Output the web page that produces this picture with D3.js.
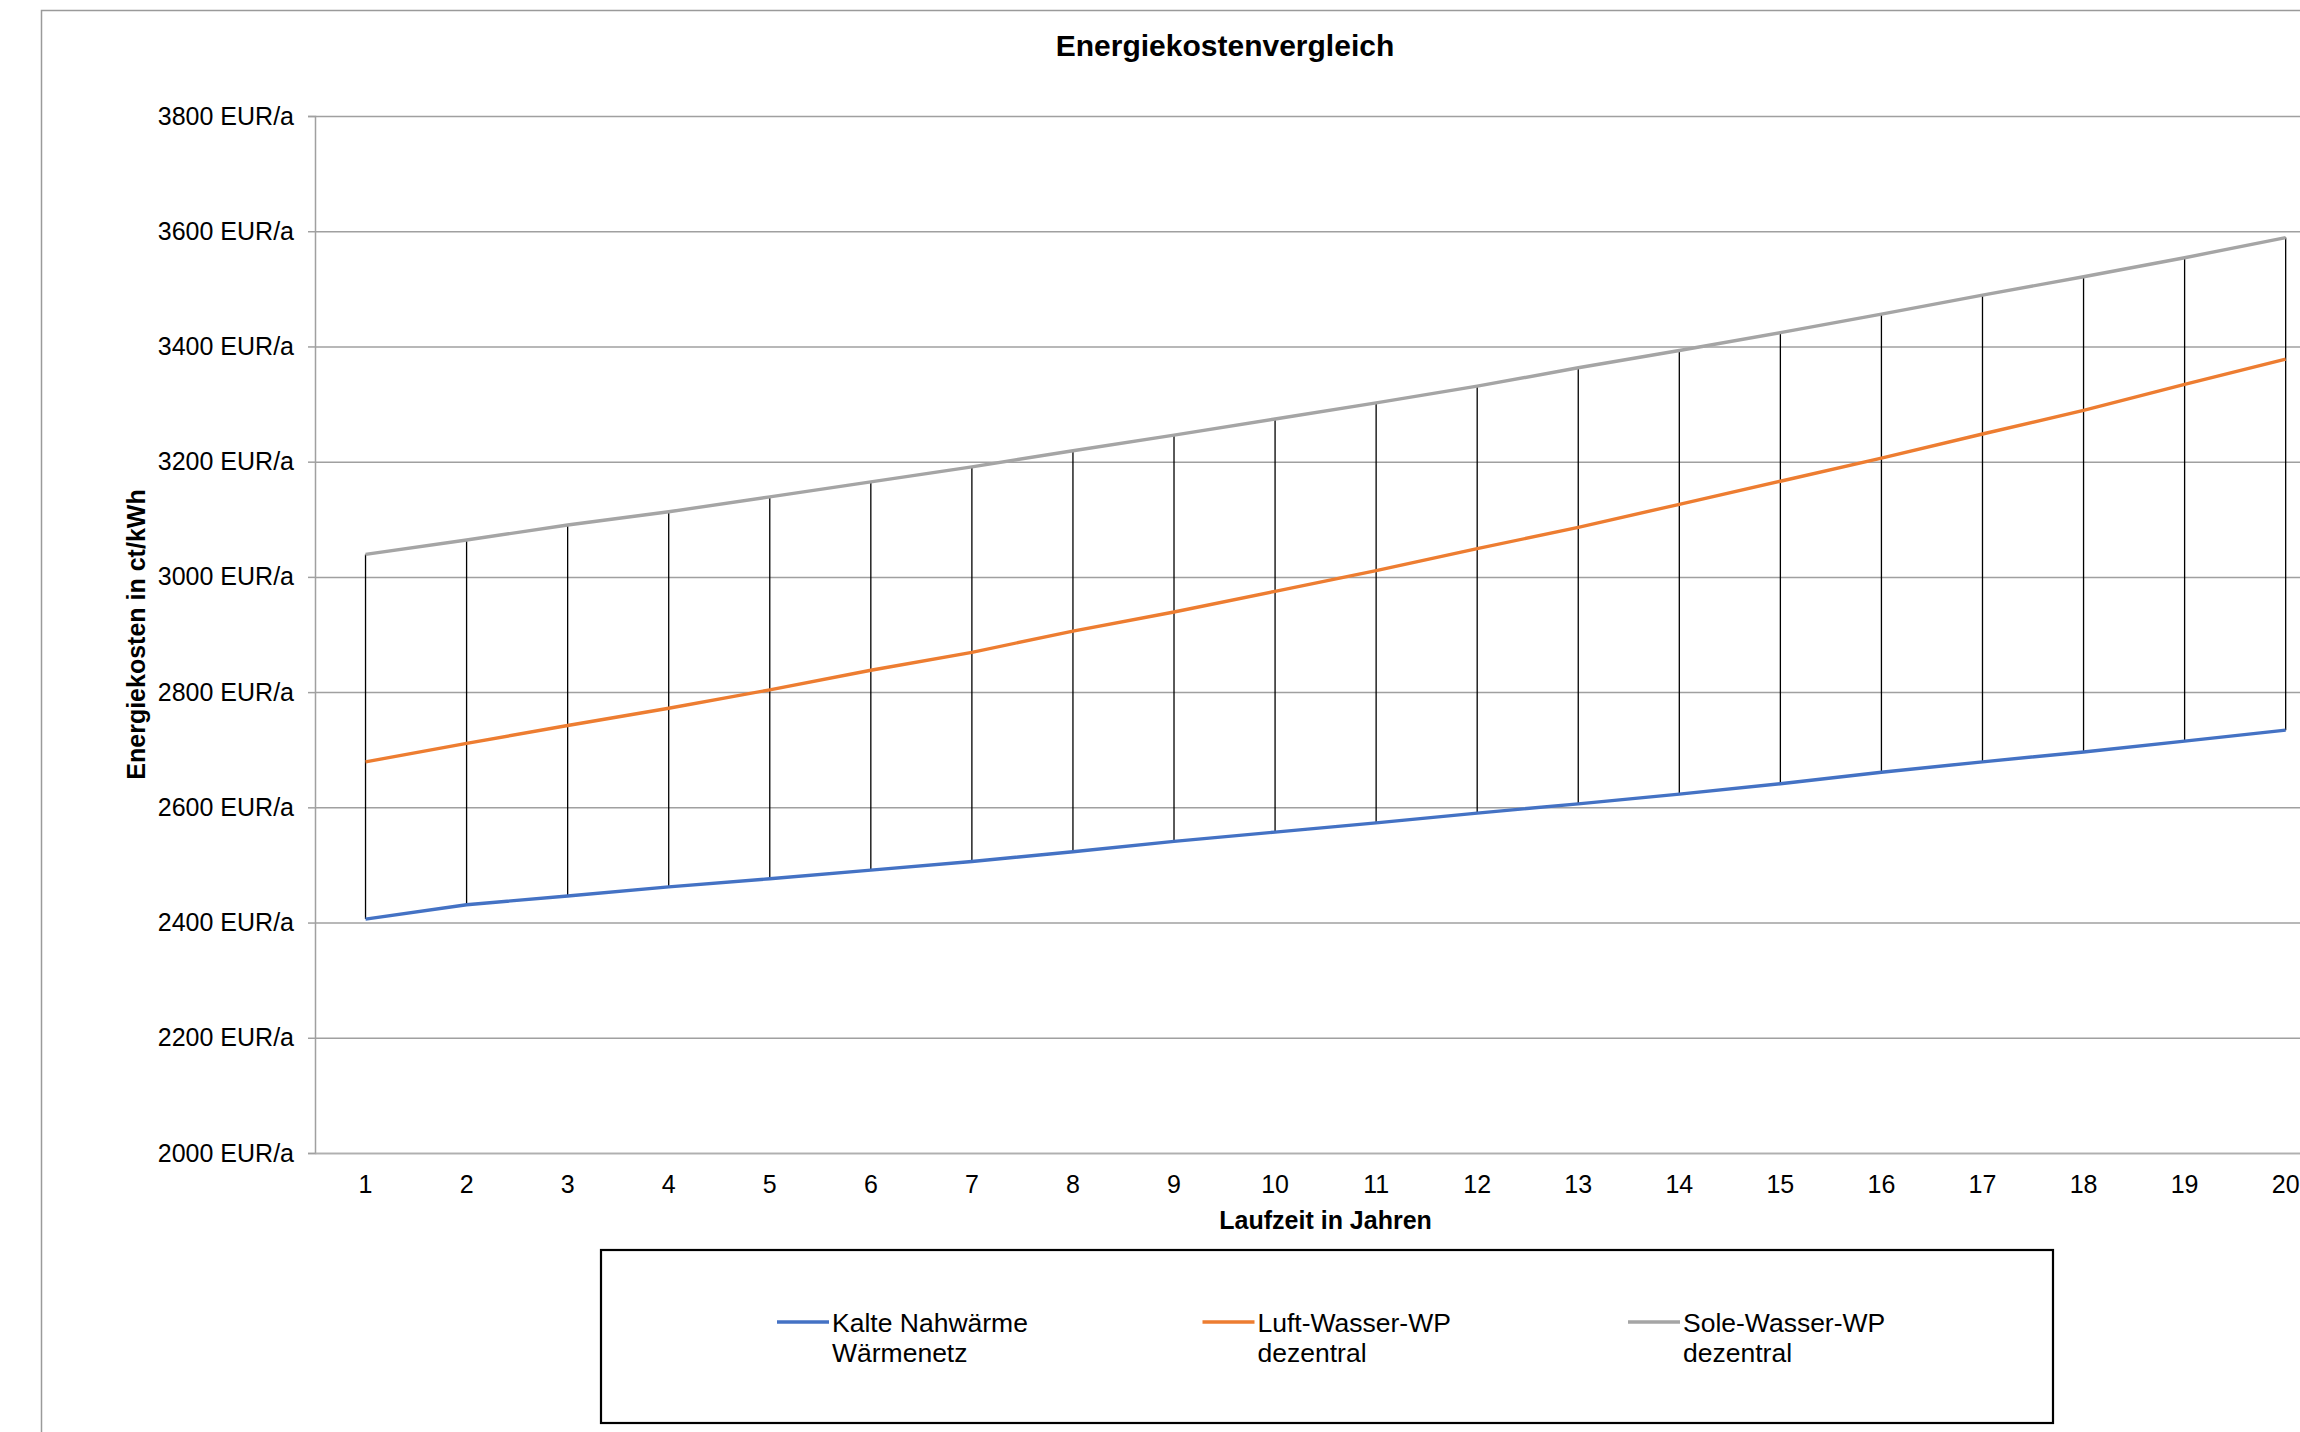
<!DOCTYPE html>
<html>
<head>
<meta charset="utf-8">
<script src="https://cdn.jsdelivr.net/npm/d3@7"></script>
<style>
  html, body { margin: 0; padding: 0; background: #fff; overflow: hidden; }
  svg { display: block; font-family: "Liberation Sans", Arial, sans-serif; }
</style>
</head>
<body>
<svg id="chart" width="2300" height="1432"></svg>
<script>
// ---- data ----
const years = [1,2,3,4,5,6,7,8,9,10,11,12,13,14,15,16,17,18,19,20];
const kalteNahwaerme = [2406,2431,2446,2462,2476,2491,2506,2523,2541,2557,2573,2590,2606,2623,2641,2661,2679,2696,2715,2734];
const luftWasser     = [2679,2711,2742,2772,2804,2838,2869,2906,2939,2975,3011,3049,3086,3126,3166,3206,3248,3289,3334,3378];
const soleWasser     = [3039,3064,3090,3113,3139,3165,3191,3219,3246,3274,3302,3331,3363,3393,3424,3456,3489,3521,3554,3589];
const yTickValues = [2000,2200,2400,2600,2800,3000,3200,3400,3600,3800];
const seriesNames = [["Kalte Nahwärme","Wärmenetz"],["Luft-Wasser-WP","dezentral"],["Sole-Wasser-WP","dezentral"]];
const seriesColors = ["#4472C4","#ED7D31","#A5A5A5"];
const chartTitle = "Energiekostenvergleich";
const xTitle = "Laufzeit in Jahren";
const yTitle = "Energiekosten in ct/kWh";
const tickSuffix = " EUR/a";

// ---- layout ----
const svg = d3.select("#chart");
const plotLeft = 315, plotTop = 116, plotBottom = 1153, band = 101.06;
const plotRight = plotLeft + band * years.length;

const x = d3.scaleBand().domain(years).range([plotLeft, plotRight]).padding(0);
const y = d3.scaleLinear().domain([2000, 3800]).range([plotBottom, plotTop]);
const cx = d => x(d) + x.bandwidth() / 2;

// outer chart border
svg.append("rect").attr("x", 41.5).attr("y", 10.5).attr("width", 2400).attr("height", 1600)
  .attr("fill", "#fff").attr("stroke", "#9a9a9a").attr("stroke-width", 1.5);

// title
svg.append("text").attr("x", 1225).attr("y", 56).attr("text-anchor", "middle")
  .attr("font-size", 30).attr("font-weight", "bold").attr("fill", "#000").text(chartTitle);

// gridlines
const grid = svg.append("g").attr("transform", `translate(${plotLeft},0)`)
  .call(d3.axisLeft(y).tickValues(yTickValues).tickSize(-(plotRight - plotLeft)).tickFormat(""));
grid.select(".domain").remove();
grid.selectAll("line").attr("stroke", "#a0a0a0").attr("stroke-width", 1.5);

// y axis
const yAxis = svg.append("g").attr("transform", `translate(${plotLeft},0)`)
  .call(d3.axisLeft(y).tickValues(yTickValues).tickSize(7).tickPadding(14).tickFormat(d => d + tickSuffix));
yAxis.select(".domain").attr("stroke", "#a0a0a0").attr("stroke-width", 1.5);
yAxis.selectAll("line").attr("stroke", "#a0a0a0").attr("stroke-width", 1.5);
yAxis.selectAll("text").attr("font-size", 25).attr("fill", "#000")
  .attr("font-family", "'Liberation Sans', Arial, sans-serif");

// x axis
const xAxis = svg.append("g").attr("transform", `translate(0,${plotBottom})`)
  .call(d3.axisBottom(x).tickSize(0).tickPadding(22));
xAxis.select(".domain").attr("stroke", "#b0b0b0").attr("stroke-width", 1.5);
xAxis.selectAll("text").attr("font-size", 25).attr("fill", "#000")
  .attr("font-family", "'Liberation Sans', Arial, sans-serif");

// axis titles
svg.append("text").attr("x", (plotLeft + plotRight) / 2).attr("y", 1229).attr("text-anchor", "middle")
  .attr("font-size", 25).attr("font-weight", "bold").attr("fill", "#000").text(xTitle);
svg.append("text").attr("transform", `translate(145,${(plotTop + plotBottom) / 2}) rotate(-90)`)
  .attr("text-anchor", "middle").attr("font-size", 25).attr("font-weight", "bold").attr("fill", "#000").text(yTitle);

// high-low lines
const allSeries = [kalteNahwaerme, luftWasser, soleWasser];
svg.append("g").selectAll("line").data(years).join("line")
  .attr("x1", d => cx(d)).attr("x2", d => cx(d))
  .attr("y1", (d, i) => y(d3.max(allSeries, s => s[i])))
  .attr("y2", (d, i) => y(d3.min(allSeries, s => s[i])))
  .attr("stroke", "#000").attr("stroke-width", 1.3);

// series lines
const line = d3.line().x((v, i) => cx(years[i])).y(v => y(v));
svg.append("g").selectAll("path").data(allSeries).join("path")
  .attr("d", s => line(s)).attr("fill", "none")
  .attr("stroke", (s, i) => seriesColors[i]).attr("stroke-width", 3.4).attr("stroke-linejoin", "round");

// legend
svg.append("rect").attr("x", 601).attr("y", 1250).attr("width", 1452).attr("height", 173)
  .attr("fill", "#fff").attr("stroke", "#000").attr("stroke-width", 2.2);
const leg = svg.append("g").selectAll("g").data(seriesNames).join("g")
  .attr("transform", (d, i) => `translate(${777 + i * 425.5},1322)`);
leg.append("line").attr("x1", 0).attr("x2", 52).attr("y1", 0).attr("y2", 0)
  .attr("stroke", (d, i) => seriesColors[i]).attr("stroke-width", 3.4);
leg.append("text").attr("x", 55).attr("y", 10).attr("font-size", 26.5).attr("fill", "#000")
  .selectAll("tspan").data(d => d).join("tspan")
  .attr("x", 55).attr("dy", (d, i) => i === 0 ? 0 : 30).text(d => d);
</script>
</body>
</html>
